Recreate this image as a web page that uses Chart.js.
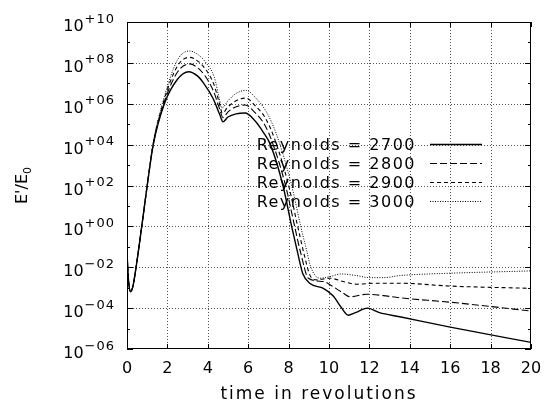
<!DOCTYPE html>
<html>
<head>
<meta charset="utf-8">
<title>Perturbation energy growth</title>
<script src="https://cdn.jsdelivr.net/npm/chart.js@4.4.1/dist/chart.umd.min.js"></script>
<style>
    html, body { margin: 0; padding: 0; background: #fff; }
    #energyChart { display: block; }
</style>
</head>
<body>
<canvas id="energyChart" width="545" height="414"></canvas>
<script>
// time (revolutions) and E'/E0 for each Reynolds number
const t2700 = [0, 0.08, 0.18, 0.3, 0.45, 0.73, 1.0, 1.3, 1.85, 2.5, 3.05, 3.5, 3.8, 4.25, 4.6, 4.75, 5.0, 5.4, 5.85, 6.3, 6.75, 7.1, 7.72, 8.15, 8.45, 8.7, 9.06, 9.72, 10.2, 10.6, 10.95, 11.3, 11.9, 12.5, 13.5, 16, 20];
const e2700 = [5e-2, 2e-3, 6.3e-4, 1.26e-3, 1e-2, 1, 100, 1e4, 1e6, 1.58e7, 3.7e7, 2.24e7, 1e7, 1.9e6, 2.8e5, 1.3e5, 2.24e5, 3.2e5, 3.5e5, 1.6e5, 4e4, 1e4, 100, 1, 5e-2, 5e-3, 1.6e-3, 9.3e-4, 4e-4, 1.1e-4, 4.5e-5, 6e-5, 1e-4, 6e-5, 3.8e-5, 1.17e-5, 2.1e-6];

const t2800 = [0, 0.08, 0.18, 0.3, 0.45, 0.73, 1.0, 1.3, 1.82, 2.5, 3.1, 3.55, 3.85, 4.28, 4.6, 4.75, 5.0, 5.4, 5.85, 6.3, 6.8, 7.2, 7.85, 8.3, 8.6, 8.98, 9.72, 10.2, 10.7, 11.04, 11.86, 12.68, 13.5, 16, 20];
const e2800 = [5e-2, 2e-3, 6.3e-4, 1.26e-3, 1e-2, 1, 100, 1.05e4, 1e6, 3.55e7, 8.9e7, 5.2e7, 2.4e7, 4.2e6, 5e5, 2.1e5, 4e5, 7.1e5, 8.7e5, 4e5, 1e5, 1.26e4, 100, 1, 5e-2, 2.9e-3, 2e-3, 1.12e-3, 5.4e-4, 3.6e-4, 4.8e-4, 4.1e-4, 3.2e-4, 1.95e-4, 7.2e-5];

const t2900 = [0, 0.08, 0.18, 0.3, 0.45, 0.73, 1.0, 1.3, 1.78, 2.5, 3.1, 3.55, 3.88, 4.3, 4.58, 4.72, 5.0, 5.4, 5.88, 6.35, 6.85, 7.3, 8.0, 8.45, 8.8, 9.06, 9.39, 10.05, 10.7, 11.37, 12.2, 13.5, 16, 20];
const e2900 = [5e-2, 2e-3, 6.3e-4, 1.26e-3, 1e-2, 1, 100, 1.12e4, 1e6, 7.1e7, 1.86e8, 1.12e8, 5e7, 8.9e6, 1e6, 3.5e5, 7.1e5, 1.4e6, 1.9e6, 7.9e5, 2e5, 2e4, 100, 1, 3.2e-2, 4e-3, 2.4e-3, 2.9e-3, 2e-3, 1.48e-3, 1.66e-3, 1.66e-3, 1.2e-3, 9.3e-4];

const t3000 = [0, 0.08, 0.18, 0.3, 0.45, 0.73, 1.0, 1.3, 1.75, 2.5, 3.1, 3.55, 3.9, 4.32, 4.56, 4.7, 5.0, 5.4, 5.9, 6.4, 6.9, 7.4, 8.15, 8.6, 8.9, 9.1, 9.55, 10.05, 10.6, 11.37, 12.0, 12.7, 13.5, 16, 20];
const e3000 = [5e-2, 2e-3, 6.3e-4, 1.26e-3, 1e-2, 1, 100, 1.26e4, 1e6, 1.4e8, 3.8e8, 2.4e8, 1.05e8, 2e7, 2e6, 6.3e5, 1.4e6, 3.2e6, 4.5e6, 1.8e6, 4e5, 3.2e4, 100, 1, 6.3e-2, 1e-2, 2.9e-3, 3.5e-3, 4.7e-3, 3.9e-3, 3.1e-3, 3.1e-3, 3.9e-3, 5.1e-3, 6.6e-3];

const seriesLabels = ['Reynolds = 2700', 'Reynolds = 2800', 'Reynolds = 2900', 'Reynolds = 3000'];
const xTicks = [0, 2, 4, 6, 8, 10, 12, 14, 16, 18, 20];
const yTickExps = [-6, -4, -2, 0, 2, 4, 6, 8, 10];
const yMinorExps = [-5, -3, -1, 1, 3, 5, 7, 9];
const xTitle = 'time in revolutions';

const FONT = '"DejaVu Sans", "Liberation Sans", sans-serif';

function toPoints(ts, es) {
    return ts.map((t, i) => ({ x: t, y: es[i] }));
}

// gnuplot-like frame: dotted grid, inward ticks, 10^{nn} labels, key inside the plot
const gnuplotFrame = {
    id: 'gnuplotFrame',
    beforeDatasetsDraw(chart) {
        const { ctx, chartArea: a, scales: { x, y } } = chart;
        ctx.save();
        ctx.strokeStyle = '#555';
        ctx.lineWidth = 1;
        ctx.setLineDash([1, 2]);
        xTicks.slice(1, -1).forEach(v => {
            const px = Math.round(x.getPixelForValue(v)) + 0.5;
            ctx.beginPath();
            ctx.moveTo(px, a.bottom);
            ctx.lineTo(px, a.top);
            ctx.stroke();
        });
        yTickExps.slice(1, -1).forEach(e => {
            const py = Math.round(y.getPixelForValue(Math.pow(10, e))) + 0.5;
            ctx.beginPath();
            ctx.moveTo(a.left, py);
            ctx.lineTo(a.right, py);
            ctx.stroke();
        });
        ctx.restore();
    },
    afterDraw(chart) {
        const { ctx, chartArea: a, scales: { x, y } } = chart;
        ctx.save();
        ctx.strokeStyle = '#000';
        ctx.lineWidth = 1;
        ctx.setLineDash([]);
        ctx.strokeRect(a.left + 0.5, a.top + 0.5, a.right - a.left - 1, a.bottom - a.top - 1);

        // tick marks
        ctx.beginPath();
        xTicks.forEach(v => {
            const px = Math.round(x.getPixelForValue(v)) + 0.5;
            ctx.moveTo(px, a.bottom); ctx.lineTo(px, a.bottom - 5);
            ctx.moveTo(px, a.top); ctx.lineTo(px, a.top + 5);
        });
        yTickExps.forEach(e => {
            const py = Math.round(y.getPixelForValue(Math.pow(10, e))) + 0.5;
            ctx.moveTo(a.left, py); ctx.lineTo(a.left + 6, py);
            ctx.moveTo(a.right, py); ctx.lineTo(a.right - 6, py);
        });
        yMinorExps.forEach(e => {
            const py = Math.round(y.getPixelForValue(Math.pow(10, e))) + 0.5;
            ctx.moveTo(a.left, py); ctx.lineTo(a.left + 3, py);
            ctx.moveTo(a.right, py); ctx.lineTo(a.right - 3, py);
        });
        ctx.stroke();

        ctx.fillStyle = '#000';
        ctx.textBaseline = 'alphabetic';

        // x tick labels
        ctx.font = '16px ' + FONT;
        ctx.textAlign = 'center';
        xTicks.forEach(v => {
            ctx.fillText(String(v), x.getPixelForValue(v), a.bottom + 24);
        });

        // y tick labels: 10 with a signed two-digit exponent
        const supRight = a.left - 12;
        yTickExps.forEach(e => {
            const py = y.getPixelForValue(Math.pow(10, e));
            const sup = (e < 0 ? '\u2212' : '+') + String(Math.abs(e)).padStart(2, '0');
            ctx.textAlign = 'right';
            ctx.font = '13px ' + FONT;
            ctx.letterSpacing = '1px';
            const supW = ctx.measureText(sup).width;
            ctx.fillText(sup, supRight, py + 0.5);
            ctx.letterSpacing = '0px';
            ctx.font = '16px ' + FONT;
            ctx.fillText('10', supRight - supW - 1, py + 9);
        });

        // axis titles
        ctx.font = '17px ' + FONT;
        ctx.letterSpacing = '2px';
        ctx.textAlign = 'center';
        ctx.fillText(xTitle, 319, 399);
        ctx.letterSpacing = '0px';

        ctx.save();
        ctx.translate(27, (a.top + a.bottom) / 2);
        ctx.rotate(-Math.PI / 2);
        ctx.textAlign = 'left';
        ctx.font = '16px ' + FONT;
        const mainW = ctx.measureText("E'/E").width;
        ctx.font = '11px ' + FONT;
        const subW = ctx.measureText('0').width;
        const x0 = -(mainW + subW) / 2;
        ctx.font = '16px ' + FONT;
        ctx.fillText("E'/E", x0, 0);
        ctx.font = '11px ' + FONT;
        ctx.fillText('0', x0 + mainW, 4);
        ctx.restore();

        // key
        ctx.font = '16px ' + FONT;
        ctx.letterSpacing = '1.5px';
        ctx.textAlign = 'right';
        chart.data.datasets.forEach((ds, i) => {
            const rowY = 144 + i * 19;
            ctx.fillText(ds.label, 416, rowY + 6);
            ctx.save();
            ctx.strokeStyle = ds.borderColor;
            ctx.lineWidth = ds.borderWidth;
            ctx.setLineDash(ds.borderDash || []);
            ctx.beginPath();
            ctx.moveTo(430, Math.round(rowY) + 0.5);
            ctx.lineTo(482, Math.round(rowY) + 0.5);
            ctx.stroke();
            ctx.restore();
        });
        ctx.letterSpacing = '0px';
        ctx.restore();
    }
};

document.addEventListener('DOMContentLoaded', function() {
    const canvas = document.getElementById('energyChart');

    const lineStyle = {
        borderColor: '#000',
        pointRadius: 0,
        fill: false,
        cubicInterpolationMode: 'monotone'
    };

    const energyData = {
        datasets: [
            Object.assign({ label: seriesLabels[0], data: toPoints(t2700, e2700), borderDash: [], borderWidth: 1.4 }, lineStyle),
            Object.assign({ label: seriesLabels[1], data: toPoints(t2800, e2800), borderDash: [7, 3], borderWidth: 1.1 }, lineStyle),
            Object.assign({ label: seriesLabels[2], data: toPoints(t2900, e2900), borderDash: [4, 3], borderWidth: 1.1 }, lineStyle),
            Object.assign({ label: seriesLabels[3], data: toPoints(t3000, e3000), borderDash: [1, 1.5], borderWidth: 1 }, lineStyle)
        ]
    };

    const energyConfig = {
        type: 'line',
        data: energyData,
        options: {
            responsive: false,
            animation: false,
            devicePixelRatio: 1,
            layout: { padding: { top: 22, right: 14, left: 0, bottom: 0 } },
            plugins: {
                legend: { display: false },
                tooltip: { enabled: false }
            },
            scales: {
                x: {
                    type: 'linear',
                    min: 0,
                    max: 20,
                    ticks: { display: false, stepSize: 2 },
                    grid: { display: false },
                    border: { display: false },
                    afterFit: function(scale) { scale.height = 65; }
                },
                y: {
                    type: 'logarithmic',
                    min: 1e-6,
                    max: 1e10,
                    ticks: { display: false },
                    grid: { display: false },
                    border: { display: false },
                    afterFit: function(scale) { scale.width = 127; }
                }
            }
        },
        plugins: [gnuplotFrame]
    };

    new Chart(canvas, energyConfig);
});
</script>
</body>
</html>
